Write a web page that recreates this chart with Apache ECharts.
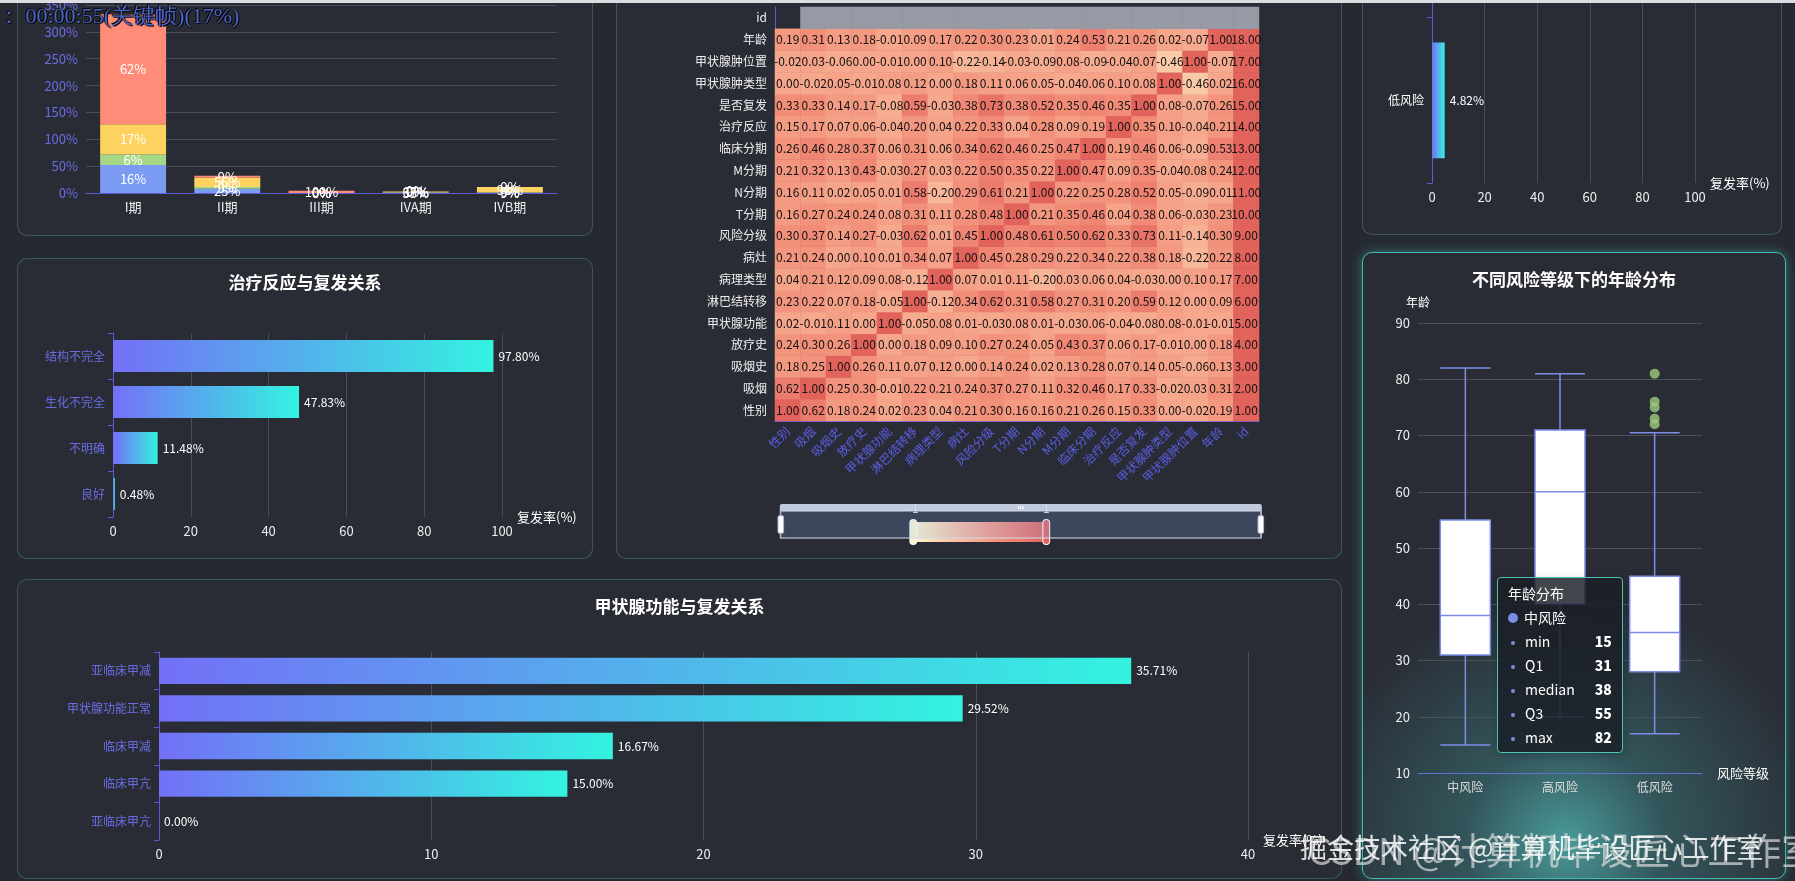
<!DOCTYPE html>
<html><head><meta charset="utf-8">
<script src="https://cdn.jsdelivr.net/npm/echarts@6/dist/echarts.min.js"></script>
<style>
html,body{margin:0;padding:0;width:1795px;height:881px;overflow:hidden;background:#262930;font-family:"Noto Sans CJK SC","Noto Sans",sans-serif;}
.panel{position:absolute;box-sizing:border-box;border:1px solid rgba(70,125,125,0.55);border-radius:10px;background:#2a2c35;overflow:hidden;}
.chart{position:absolute;left:0;top:0;width:100%;height:100%;}
#p6{border:1px solid #40bcb0;box-shadow:0 0 12px rgba(60,190,180,0.5);background:radial-gradient(ellipse 62% 40% at 48% 94%, rgba(75,160,158,0.95) 0%, rgba(58,120,122,0.55) 38%, rgba(42,44,53,0) 100%), #2a2c35;}
#topline{position:absolute;left:0;top:0;width:1795px;height:3px;background:#dcdde0;z-index:20;}
#ov{position:absolute;left:-2px;top:1px;font-family:"Liberation Serif","DejaVu Serif",serif;font-size:22px;color:#4d66cc;z-index:21;text-shadow:0 0 1px #000,0 0 2px #000,1px 1px 0 #111,-1px -1px 0 #111;white-space:nowrap;}
.wm{position:absolute;white-space:nowrap;z-index:22;pointer-events:none;}
</style></head>
<body>
<div id="topline"></div>
<div id="ov">：&nbsp;00:00:55(关键帧)(17%)</div>
<div class="panel" id="p1" style="left:17px;top:-60px;width:576px;height:296px;"><div class="chart" id="c1"></div></div>
<div class="panel" id="p2" style="left:616px;top:-40px;width:726px;height:599px;"><div class="chart" id="c2"></div></div>
<div class="panel" id="p3" style="left:1362px;top:-400px;width:420px;height:635px;"><div class="chart" id="c3"></div></div>
<div class="panel" id="p4" style="left:17px;top:258px;width:576px;height:301px;"><div class="chart" id="c4"></div></div>
<div class="panel" id="p5" style="left:17px;top:579px;width:1325px;height:300px;"><div class="chart" id="c5"></div></div>
<div class="panel" id="p6" style="left:1362px;top:252px;width:424px;height:627px;"><div class="chart" id="c6"></div></div>
<div class="wm" style="left:1308px;top:822px;font-size:37px;color:rgba(220,220,220,0.7);">CSDN @计算机毕设匠心工作室</div>
<div class="wm" style="left:1300px;top:827px;font-size:27px;color:rgba(255,255,255,0.85);">掘金技术社区 @计算机毕设匠心工作室</div>
<script>
// ---------- data ----------
const stageCats = ['I期', 'II期', 'III期', 'IVA期', 'IVB期'];
const stackNames = ['结构不完全', '生化不完全', '不明确', '良好'];
const stackBlue = [52, 8, 0, 1, 1];
const stackGreen = [20, 3, 0, 0, 0];
const stackYellow = [56, 18, 0, 2, 10];
const stackSalmon = [205, 3, 4, 0, 0];

const heatLabels = ['性别', '吸烟', '吸烟史', '放疗史', '甲状腺功能', '淋巴结转移', '病理类型', '病灶', '风险分级', 'T分期', 'N分期', 'M分期', '临床分期', '治疗反应', '是否复发', '甲状腺肿类型', '甲状腺肿位置', '年龄', 'id'];
// rows listed from bottom (性别) to top (年龄); columns in heatLabels order
const corrRows = [
  [1.00, 0.62, 0.18, 0.24, 0.02, 0.23, 0.04, 0.21, 0.30, 0.16, 0.16, 0.21, 0.26, 0.15, 0.33, 0.00, -0.02, 0.19, 1],
  [0.62, 1.00, 0.25, 0.30, -0.01, 0.22, 0.21, 0.24, 0.37, 0.27, 0.11, 0.32, 0.46, 0.17, 0.33, -0.02, 0.03, 0.31, 2],
  [0.18, 0.25, 1.00, 0.26, 0.11, 0.07, 0.12, 0.00, 0.14, 0.24, 0.02, 0.13, 0.28, 0.07, 0.14, 0.05, -0.06, 0.13, 3],
  [0.24, 0.30, 0.26, 1.00, 0.00, 0.18, 0.09, 0.10, 0.27, 0.24, 0.05, 0.43, 0.37, 0.06, 0.17, -0.01, 0.00, 0.18, 4],
  [0.02, -0.01, 0.11, 0.00, 1.00, -0.05, 0.08, 0.01, -0.03, 0.08, 0.01, -0.03, 0.06, -0.04, -0.08, 0.08, -0.01, -0.01, 5],
  [0.23, 0.22, 0.07, 0.18, -0.05, 1.00, -0.12, 0.34, 0.62, 0.31, 0.58, 0.27, 0.31, 0.20, 0.59, 0.12, 0.00, 0.09, 6],
  [0.04, 0.21, 0.12, 0.09, 0.08, -0.12, 1.00, 0.07, 0.01, 0.11, -0.20, 0.03, 0.06, 0.04, -0.03, 0.00, 0.10, 0.17, 7],
  [0.21, 0.24, 0.00, 0.10, 0.01, 0.34, 0.07, 1.00, 0.45, 0.28, 0.29, 0.22, 0.34, 0.22, 0.38, 0.18, -0.22, 0.22, 8],
  [0.30, 0.37, 0.14, 0.27, -0.03, 0.62, 0.01, 0.45, 1.00, 0.48, 0.61, 0.50, 0.62, 0.33, 0.73, 0.11, -0.14, 0.30, 9],
  [0.16, 0.27, 0.24, 0.24, 0.08, 0.31, 0.11, 0.28, 0.48, 1.00, 0.21, 0.35, 0.46, 0.04, 0.38, 0.06, -0.03, 0.23, 10],
  [0.16, 0.11, 0.02, 0.05, 0.01, 0.58, -0.20, 0.29, 0.61, 0.21, 1.00, 0.22, 0.25, 0.28, 0.52, 0.05, -0.09, 0.01, 11],
  [0.21, 0.32, 0.13, 0.43, -0.03, 0.27, 0.03, 0.22, 0.50, 0.35, 0.22, 1.00, 0.47, 0.09, 0.35, -0.04, 0.08, 0.24, 12],
  [0.26, 0.46, 0.28, 0.37, 0.06, 0.31, 0.06, 0.34, 0.62, 0.46, 0.25, 0.47, 1.00, 0.19, 0.46, 0.06, -0.09, 0.53, 13],
  [0.15, 0.17, 0.07, 0.06, -0.04, 0.20, 0.04, 0.22, 0.33, 0.04, 0.28, 0.09, 0.19, 1.00, 0.35, 0.10, -0.04, 0.21, 14],
  [0.33, 0.33, 0.14, 0.17, -0.08, 0.59, -0.03, 0.38, 0.73, 0.38, 0.52, 0.35, 0.46, 0.35, 1.00, 0.08, -0.07, 0.26, 15],
  [0.00, -0.02, 0.05, -0.01, 0.08, 0.12, 0.00, 0.18, 0.11, 0.06, 0.05, -0.04, 0.06, 0.10, 0.08, 1.00, -0.46, 0.02, 16],
  [-0.02, 0.03, -0.06, 0.00, -0.01, 0.00, 0.10, -0.22, -0.14, -0.03, -0.09, 0.08, -0.09, -0.04, 0.07, -0.46, 1.00, -0.07, 17],
  [0.19, 0.31, 0.13, 0.18, -0.01, 0.09, 0.17, 0.22, 0.30, 0.23, 0.01, 0.24, 0.53, 0.21, 0.26, 0.02, -0.07, 1.00, 18]
];

const riskCats = ['低风险', '中风险', '高风险'];
const riskRate = [4.82, 62.75, 100];

const respCats = ['良好', '不明确', '生化不完全', '结构不完全'];
const respRate = [0.48, 11.48, 47.83, 97.80];

const thyCats = ['亚临床甲亢', '临床甲亢', '临床甲减', '甲状腺功能正常', '亚临床甲减'];
const thyRate = [0.00, 15.00, 16.67, 29.52, 35.71];

const boxCats = ['中风险', '高风险', '低风险'];
const boxStats = [
  [15, 31, 38, 55, 82],
  [20, 40, 60, 71, 81],
  [17, 28, 35, 45, 70.5]
];
const lowOutliers = [72, 73, 75, 76, 81];

// ---------- common ----------
const FONT = '"Noto Sans CJK SC","Noto Sans",sans-serif';
const AXIS_BLUE = '#5b5bd8';
const LABEL_PURPLE = '#6a6ce4';
const GRID_LINE = '#4a4c56';
function grad() {
  return new echarts.graphic.LinearGradient(0, 0, 1, 0, [
    {offset: 0, color: '#7370f7'}, {offset: 1, color: '#33f3e0'}
  ]);
}

// ---------- chart 1: stacked bar ----------
(function () {
  const c = echarts.init(document.getElementById('c1'));
  const all = [stackBlue, stackGreen, stackYellow, stackSalmon];
  const totals = stageCats.map((_, i) => all.reduce((s, a) => s + a[i], 0));
  const colors = ['#7b9cf2', '#a5d785', '#fdd25e', '#ff8c78'];
  c.setOption({
    animation: false,
    textStyle: {fontFamily: FONT},
    grid: {left: 68, right: 35, top: 64, bottom: 42},
    xAxis: {type: 'category', data: stageCats,
      axisLine: {lineStyle: {color: AXIS_BLUE}}, axisTick: {lineStyle: {color: AXIS_BLUE}},
      axisLabel: {color: '#eee', fontSize: 13}},
    yAxis: {type: 'value', interval: 50, min: 0, max: 350,
      axisLabel: {color: LABEL_PURPLE, fontSize: 13, formatter: '{value}%'},
      splitLine: {lineStyle: {color: GRID_LINE}}, axisLine: {show: false}},
    series: all.map((arr, k) => ({
      name: stackNames[k], type: 'bar', stack: 'total', barWidth: '70%', data: arr,
      itemStyle: {color: colors[k]},
      label: {show: true, position: 'inside', color: '#fff', fontSize: 13,
        formatter: p => Math.round(p.value / totals[p.dataIndex] * 100) + '%'}
    }))
  });
})();

// ---------- chart 2: heatmap ----------
(function () {
  const c = echarts.init(document.getElementById('c2'));
  const data = [];
  corrRows.forEach((row, y) => row.forEach((v, x) => data.push([x, y, v])));
  const idRow = [];
  for (let x = 1; x < heatLabels.length; x++) idRow.push([x, heatLabels.length - 1, 0]);
  c.setOption({
    animation: false,
    textStyle: {fontFamily: FONT},
    grid: {left: 158, right: 82, top: 46, bottom: 137},
    xAxis: {type: 'category', data: heatLabels,
      axisLine: {lineStyle: {color: AXIS_BLUE}}, axisTick: {lineStyle: {color: AXIS_BLUE}},
      axisLabel: {color: '#5a5ee2', fontSize: 12, rotate: 45, interval: 0}},
    yAxis: {type: 'category', data: heatLabels,
      axisLine: {lineStyle: {color: AXIS_BLUE}}, axisTick: {lineStyle: {color: AXIS_BLUE}},
      axisLabel: {color: '#eee', fontSize: 12, interval: 0}},
    dataZoom: [{type: 'slider', xAxisIndex: 0, start: 0, end: 100, left: 160, right: 82, top: 543, height: 28,
      showDetail: false, showDataShadow: false,
      borderColor: '#d2dbee', fillerColor: 'rgba(135,175,274,0.2)', backgroundColor: 'rgba(47,69,84,0)',
      handleStyle: {color: '#fff', borderColor: '#ACB8D1'},
      moveHandleSize: 7, moveHandleStyle: {color: '#D2DBEE', opacity: 0.9}}],
    visualMap: {type: 'continuous', min: -1, max: 1, calculable: true, orient: 'horizontal',
      left: 'center', top: 526, seriesIndex: 0, itemWidth: 20, itemHeight: 133, precision: 0,
      inRange: {color: ['#fef6c8', '#f9bf9f', '#f28d78', '#e2625c']},
      textStyle: {color: '#ddd', fontSize: 12}},
    series: [
      {type: 'heatmap', data: data,
        label: {show: true, color: '#111', fontSize: 12, formatter: p => p.value[2].toFixed(2)}},
      {type: 'heatmap', data: idRow, itemStyle: {color: '#979aa5'}, label: {show: false}}
    ]
  });
})();

// ---------- horizontal gradient bars ----------
function hbar(el, cats, vals, o) {
  const c = echarts.init(document.getElementById(el));
  c.setOption({
    animation: false,
    textStyle: {fontFamily: FONT},
    title: o.title ? {text: o.title, left: 'center', top: o.titleTop,
      textStyle: {color: '#fff', fontSize: 17, fontWeight: 'bold'}} : undefined,
    grid: o.grid,
    xAxis: {type: 'value', max: o.max, interval: o.interval, name: '复发率(%)', nameLocation: 'end',
      nameTextStyle: {color: '#fff', fontSize: 13},
      axisLabel: {color: '#eee', fontSize: 13},
      splitLine: {lineStyle: {color: GRID_LINE}}, axisLine: {show: false}},
    yAxis: {type: 'category', data: cats,
      axisLine: {show: true, lineStyle: {color: AXIS_BLUE}}, axisTick: {show: true, lineStyle: {color: AXIS_BLUE}},
      axisLabel: {color: o.ylabelColor, fontSize: 12}},
    series: [{type: 'bar', data: vals, barWidth: '70%',
      itemStyle: {color: grad()},
      label: {show: true, position: 'right', color: '#fff', fontSize: 12,
        formatter: p => p.value.toFixed(2) + '%'}}]
  });
  return c;
}
hbar('c3', riskCats, riskRate, {grid: {left: 69, right: 86, top: 86, bottom: 51}, max: 100, interval: 20, ylabelColor: '#fff'});
hbar('c4', respCats, respRate, {title: '治疗反应与复发关系', titleTop: 10, grid: {left: 95, right: 90, top: 74, bottom: 41}, max: 100, interval: 20, ylabelColor: LABEL_PURPLE});
hbar('c5', thyCats, thyRate, {title: '甲状腺功能与复发关系', titleTop: 13, grid: {left: 141, right: 93, top: 72, bottom: 38}, max: 40, interval: 10, ylabelColor: LABEL_PURPLE});

// ---------- chart 6: boxplot ----------
(function () {
  const c = echarts.init(document.getElementById('c6'));
  c.setOption({
    animation: false,
    textStyle: {fontFamily: FONT},
    title: {text: '不同风险等级下的年龄分布', left: 'center', top: 13,
      textStyle: {color: '#fff', fontSize: 17, fontWeight: 'bold'}},
    tooltip: {trigger: 'item', alwaysShowContent: true, position: [134, 324], transitionDuration: 0,
      backgroundColor: 'rgba(26,29,36,0.82)', borderColor: '#4cc2b2', borderWidth: 1,
      textStyle: {color: '#fff', fontSize: 14}, padding: [8, 10]},
    grid: {left: 55, right: 83, top: 70, bottom: 105},
    xAxis: {type: 'category', data: boxCats, name: '风险等级', nameGap: 15,
      nameTextStyle: {color: '#fff', fontSize: 13},
      axisLine: {lineStyle: {color: '#5f72d0'}}, axisTick: {lineStyle: {color: '#5f72d0'}},
      axisLabel: {color: '#ddd', fontSize: 12}},
    yAxis: {type: 'value', min: 10, max: 90, interval: 10, name: '年龄',
      nameTextStyle: {color: '#fff', fontSize: 12},
      axisLabel: {color: '#eee', fontSize: 13},
      axisLine: {show: false}, splitLine: {lineStyle: {color: '#4e505a'}}},
    series: [
      {name: '年龄分布', type: 'boxplot', data: boxStats,
        itemStyle: {color: '#fff', borderColor: '#7b8de6', borderWidth: 1.5}},
      {name: '异常值', type: 'scatter', data: lowOutliers.map(v => [2, v]),
        symbolSize: 10, itemStyle: {color: '#9ccc7c'}, tooltip: {show: false}}
    ]
  });
  c.dispatchAction({type: 'showTip', seriesIndex: 0, dataIndex: 0});
})();
</script>
</body></html>
